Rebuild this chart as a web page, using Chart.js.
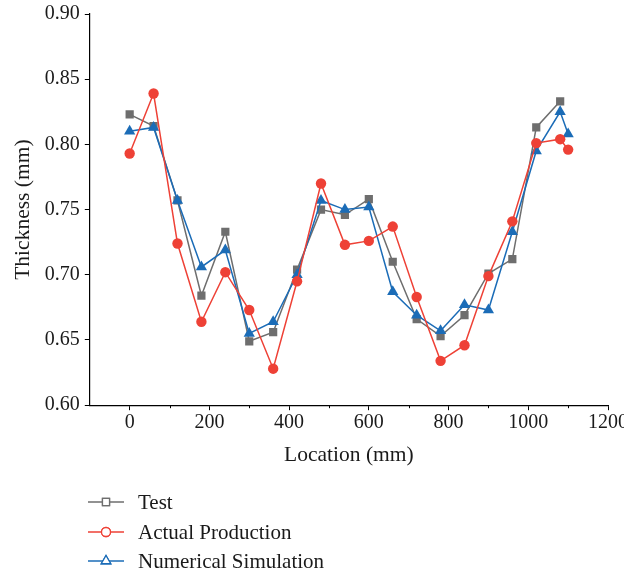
<!DOCTYPE html>
<html>
<head>
<meta charset="utf-8">
<script src="https://cdn.jsdelivr.net/npm/chart.js@4/dist/chart.umd.min.js"></script>
<style>
    html, body { margin: 0; padding: 0; background: #fff; }
    #thicknessChart { display: block; }
</style>
</head>
<body>
<canvas id="thicknessChart" width="624" height="576"></canvas>
<script>
var locations = [0, 60, 120, 180, 240, 300, 360, 420, 480, 540, 600, 660, 720, 780, 840, 900, 960, 1020, 1080, 1100];

var testValues = [0.823, 0.814, 0.757, 0.684, 0.733, 0.649, 0.656, 0.704, 0.750, 0.746, 0.758, 0.710, 0.666, 0.653, 0.669, 0.701, 0.712, 0.813, 0.833, null];
var productionValues = [0.793, 0.839, 0.724, 0.664, 0.702, 0.673, 0.628, 0.695, 0.770, 0.723, 0.726, 0.737, 0.683, 0.634, 0.646, 0.699, 0.741, 0.801, 0.804, 0.796];
var simulationValues = [0.810, 0.813, 0.757, 0.706, 0.719, 0.655, 0.664, 0.700, 0.757, 0.750, 0.752, 0.687, 0.669, 0.657, 0.677, 0.673, 0.733, 0.795, 0.825, 0.808];

var seriesNames = ['Test', 'Actual Production', 'Numerical Simulation'];
var xTickValues = [0, 200, 400, 600, 800, 1000, 1200];
var yTickValues = [0.60, 0.65, 0.70, 0.75, 0.80, 0.85, 0.90];

var fontFamily = '"Liberation Serif", "DejaVu Serif", serif';

function toPoints(values) {
    var points = [];
    for (var i = 0; i < locations.length; i++) {
        points.push({ x: locations[i], y: values[i] });
    }
    return points;
}

function makeDataset(label, values, color, style, radius, order) {
    return {
        label: label,
        data: toPoints(values),
        borderColor: color,
        backgroundColor: color,
        pointBackgroundColor: color,
        pointBorderColor: color,
        pointStyle: style,
        pointRadius: radius,
        pointBorderWidth: 0,
        borderWidth: 1.5,
        tension: 0,
        spanGaps: false,
        order: order
    };
}

// small ticks between the labelled x ticks
var minorTicks = {
    id: 'minorTicks',
    afterDraw: function(chart) {
        var ctx = chart.ctx;
        var xScale = chart.scales.x;
        var bottom = chart.chartArea.bottom;
        ctx.save();
        ctx.strokeStyle = '#000';
        ctx.lineWidth = 1;
        for (var v = 100; v < 1200; v += 200) {
            var px = Math.round(xScale.getPixelForValue(v)) + 0.5;
            ctx.beginPath();
            ctx.moveTo(px, bottom);
            ctx.lineTo(px, bottom + 3);
            ctx.stroke();
        }
        ctx.restore();
    }
};

// legend with line + hollow marker, stacked under the axis title
var lineLegend = {
    id: 'lineLegend',
    afterDraw: function(chart) {
        var ctx = chart.ctx;
        var rows = [502, 532, 561];
        ctx.save();
        ctx.font = '21px ' + fontFamily;
        ctx.textBaseline = 'middle';
        for (var i = 0; i < 3; i++) {
            var ds = chart.data.datasets[i];
            var y = rows[i];
            ctx.strokeStyle = ds.borderColor;
            ctx.lineWidth = 1.3;
            ctx.beginPath();
            ctx.moveTo(88, y);
            ctx.lineTo(124, y);
            ctx.stroke();
            Chart.helpers.drawPoint(ctx, {
                pointStyle: ds.pointStyle,
                radius: ds.pointStyle === 'triangle' ? 5.5 : (ds.pointStyle === 'rect' ? 5 : 4.5),
                borderWidth: 1.3,
                rotation: 0
            }, 106, y);
            ctx.fillStyle = '#fff';
            ctx.fill();
            ctx.stroke();
            ctx.fillStyle = '#1a1a1a';
            ctx.fillText(ds.label, 138, y + 1);
        }
        ctx.restore();
    }
};

function drawChart() {
    var ctx = document.getElementById('thicknessChart').getContext('2d');

    var thicknessChart = new Chart(ctx, {
        type: 'line',
        data: {
            datasets: [
                makeDataset(seriesNames[0], testValues, '#6e6e6e', 'rect', 5.8, 3),
                makeDataset(seriesNames[1], productionValues, '#ee4136', 'circle', 5.2, 1),
                makeDataset(seriesNames[2], simulationValues, '#1b6cb7', 'triangle', 6.5, 2)
            ]
        },
        options: {
            responsive: false,
            animation: false,
            layout: {
                padding: { top: 14, right: 16, bottom: 108, left: 10 }
            },
            plugins: {
                legend: { display: false },
                tooltip: { enabled: false }
            },
            scales: {
                x: {
                    type: 'linear',
                    min: -100,
                    max: 1200,
                    afterBuildTicks: function(scale) {
                        scale.ticks = xTickValues.map(function(v) { return { value: v }; });
                    },
                    afterFit: function(scale) {
                        scale.paddingRight = 0;
                    },
                    border: { color: '#000', width: 1.2 },
                    grid: { drawOnChartArea: false, drawTicks: true, tickLength: 5, color: '#000' },
                    ticks: {
                        color: '#1a1a1a',
                        font: { family: fontFamily, size: 20 },
                        padding: 1,
                        maxRotation: 0,
                        callback: function(v) { return String(v); }
                    },
                    title: {
                        display: true,
                        text: 'Location (mm)',
                        color: '#1a1a1a',
                        font: { family: fontFamily, size: 21.5 },
                        padding: { top: 6, bottom: 0 }
                    }
                },
                y: {
                    min: 0.60,
                    max: 0.90,
                    afterBuildTicks: function(scale) {
                        scale.ticks = yTickValues.map(function(v) { return { value: v }; });
                    },
                    afterFit: function(scale) {
                        scale.paddingTop = 0;
                        scale.paddingBottom = 0;
                    },
                    border: { color: '#000', width: 1.2 },
                    grid: { drawOnChartArea: false, drawTicks: true, tickLength: 5, color: '#000' },
                    ticks: {
                        color: '#1a1a1a',
                        font: { family: fontFamily, size: 20 },
                        padding: 5,
                        callback: function(v) { return Number(v).toFixed(2); }
                    },
                    title: {
                        display: true,
                        text: 'Thickness (mm)',
                        color: '#1a1a1a',
                        font: { family: fontFamily, size: 21.5 },
                        padding: { top: 0, bottom: 4 }
                    }
                }
            }
        },
        plugins: [minorTicks, lineLegend]
    });
}

drawChart();
</script>
</body>
</html>
